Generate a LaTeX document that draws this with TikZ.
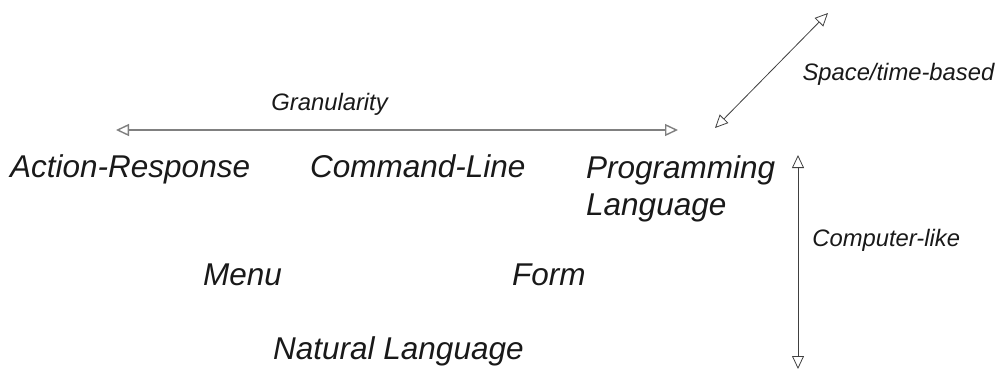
\documentclass[tikz,border=0pt]{standalone}
\usepackage{fontspec}
\setmainfont{Liberation Sans}
\usetikzlibrary{arrows.meta,positioning}

\tikzset{
  kind/.style={font=\fontsize{31.5}{37}\selectfont\itshape, inner sep=0pt, anchor=base west, align=left},
  dim/.style={font=\fontsize{23.8}{28}\selectfont\itshape, inner sep=0pt},
  axis/.style={{Triangle[open,length=13pt,width=12pt]}-{Triangle[open,length=13pt,width=12pt]}, line width=0.8pt}
}

\begin{document}
\begin{tikzpicture}[x=1pt,y=-1pt,text=black!90]
   \useasboundingbox (0,0) rectangle (997,389);
   % interaction styles
   \node[kind] (actionresp) at (10,177)  {Action-Response};
   \node[kind] (cmdline)    at (310,177) {Command-Line};
   \node[kind] (proglang)   at (586,215) {Programming\\Language};
   \node[kind] (menu)       at (203,285) {Menu};
   \node[kind] (form)       at (512,285) {Form};
   \node[kind] (natlang)    at (273,359) {Natural Language};
   % the three axes
   \coordinate (granL) at (116,130);
   \coordinate (granR) at (678,130);
   \coordinate (spaceA) at (715,128);
   \coordinate (spaceB) at (828,13);
   \coordinate (compA) at (798,155);
   \coordinate (compB) at (798,369);
    \path[axis]
    (granL) edge [draw=black!50, line width=1.4pt] node [dim, pos=0.38, above=14pt] {Granularity} (granR)
    (spaceA) edge [draw=black!75] node [dim, pos=0.47, right=34pt] {Space/time-based} (spaceB)
    (compA) edge [draw=black!75] node [dim, pos=0.4, right=14pt] {Computer-like} (compB);
\end{tikzpicture}
\end{document}
